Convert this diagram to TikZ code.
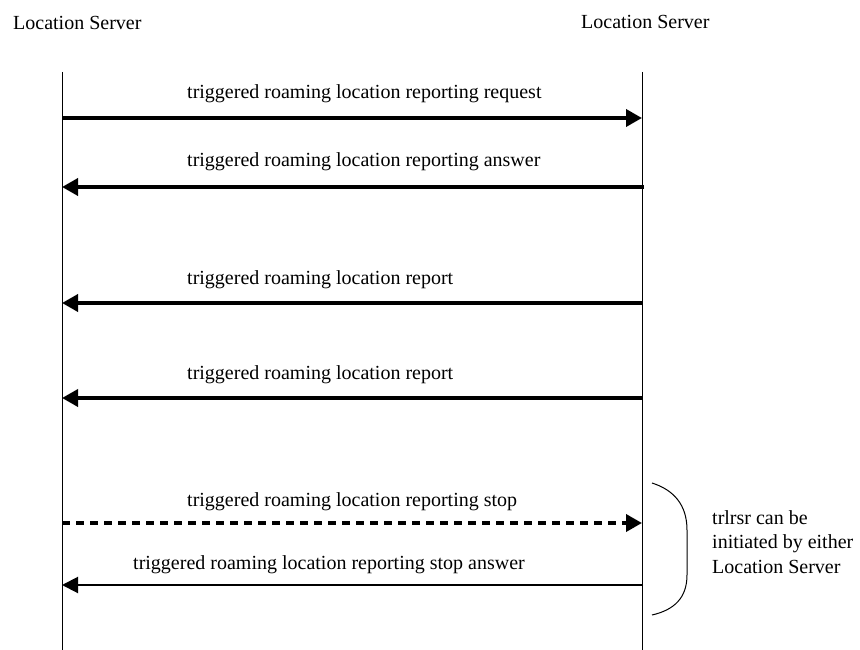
\documentclass[tikz,border=0pt]{standalone}
\usepackage{fontspec}
\setmainfont{Liberation Serif}
\usetikzlibrary{arrows.meta,positioning}
\tikzset{
lifeline/.style={line width=1pt},
msg/.style={line width=3.6pt,-{Triangle[length=16pt,width=17pt]}},
msgdash/.style={msg,dash pattern=on 8pt off 6pt},
msgthin/.style={line width=2pt,-{Triangle[length=16pt,width=16pt]}},
lbl/.style={anchor=base west,inner sep=0pt,font=\fontsize{20}{24}\selectfont}
}
\begin{document}
\begin{tikzpicture}[x=1pt,y=-1pt]
\useasboundingbox (0,0) rectangle (860,650);
\node[lbl] (srvA) at (13,30) {Location Server};
\node[lbl] (srvB) at (581,29) {Location Server};
\coordinate (srvA top) at (62,72);
\coordinate (srvA bot) at (62,650);
\coordinate (srvB top) at (642,72);
\coordinate (srvB bot) at (642,650);
\draw[lifeline] (srvA top) -- (srvA bot);
\draw[lifeline] (srvB top) -- (srvB bot);

\coordinate (req A) at (62,118);   \coordinate (req B) at (642,118);
\coordinate (ans A) at (62,187);   \coordinate (ans B) at (644,187);
\coordinate (rep1 A) at (62,303);  \coordinate (rep1 B) at (642,303);
\coordinate (rep2 A) at (62,398);  \coordinate (rep2 B) at (642,398);
\coordinate (stop A) at (62,523);  \coordinate (stop B) at (642,523);
\coordinate (sans A) at (62,585);  \coordinate (sans B) at (643,585);

\node[lbl] (reqlbl) at (187,99) {triggered roaming location reporting request};
\node[lbl] (anslbl) at (187,167) {triggered roaming location reporting answer};
\node[lbl] (rep1lbl) at (187,284) {triggered roaming location report};
\node[lbl] (rep2lbl) at (187,379) {triggered roaming location report};
\node[lbl] (stoplbl) at (187,506) {triggered roaming location reporting stop};
\node[lbl] (sanslbl) at (133,569) {triggered roaming location reporting stop answer};

\draw[msg] (req A) -- (req B);
\draw[msg] (ans B) -- (ans A);
\draw[msg] (rep1 B) -- (rep1 A);
\draw[msg] (rep2 B) -- (rep2 A);
\draw[msgdash] (stop A) -- (stop B);
\draw[msgthin] (sans B) -- (sans A);

\draw[line width=1pt] (652,483) .. controls (674,490) and (687,505) .. (687,530)
  -- (687,575) .. controls (687,598) and (674,610) .. (652,615);
\node[anchor=north west,inner sep=0pt,align=left,font=\fontsize{20}{24.5}\selectfont] (note) at (712,510)
  {trlrsr can be\\initiated by either\\Location Server};
\end{tikzpicture}
\end{document}
